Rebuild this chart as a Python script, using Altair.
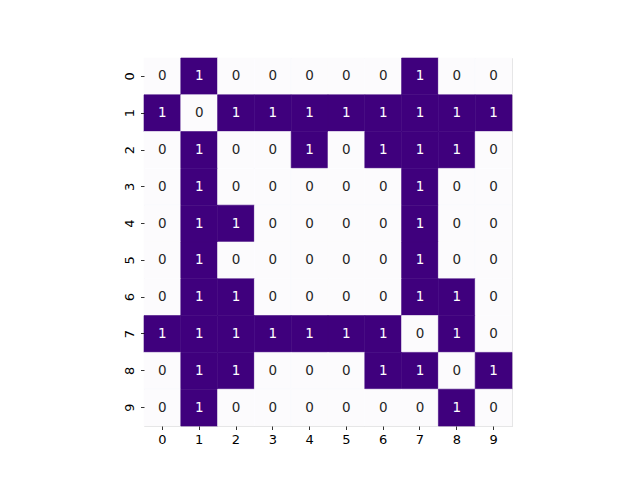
import altair as alt
import pandas as pd

row_0 = [0, 1, 0, 0, 0, 0, 0, 1, 0, 0]
row_1 = [1, 0, 1, 1, 1, 1, 1, 1, 1, 1]
row_2 = [0, 1, 0, 0, 1, 0, 1, 1, 1, 0]
row_3 = [0, 1, 0, 0, 0, 0, 0, 1, 0, 0]
row_4 = [0, 1, 1, 0, 0, 0, 0, 1, 0, 0]
row_5 = [0, 1, 0, 0, 0, 0, 0, 1, 0, 0]
row_6 = [0, 1, 1, 0, 0, 0, 0, 1, 1, 0]
row_7 = [1, 1, 1, 1, 1, 1, 1, 0, 1, 0]
row_8 = [0, 1, 1, 0, 0, 0, 1, 1, 0, 1]
row_9 = [0, 1, 0, 0, 0, 0, 0, 0, 1, 0]
rows = [row_0, row_1, row_2, row_3, row_4, row_5, row_6, row_7, row_8, row_9]
labels = [str(i) for i in range(10)]

records = []
for r, vals in enumerate(rows):
    for c, v in enumerate(vals):
        records.append({"row": labels[r], "col": labels[c], "value": v})
df = pd.DataFrame(records)

font = "DejaVu Sans"
xenc = alt.X("col:O", sort=labels, title=None,
             scale=alt.Scale(paddingInner=0, paddingOuter=0),
             axis=alt.Axis(labelAngle=0, domain=False, tickSize=3.5, tickWidth=0.8,
                           tickColor="black", labelPadding=3.5, labelFont=font,
                           labelFontSize=13, labelColor="black", grid=False))
yenc = alt.Y("row:O", sort=labels, title=None,
             scale=alt.Scale(paddingInner=0, paddingOuter=0),
             axis=alt.Axis(labelAngle=270, domain=False, tickSize=3.5, tickWidth=0.8,
                           tickColor="black", labelPadding=4.5, labelFont=font,
                           labelFontSize=13, labelColor="black", grid=False,
                           labelAlign="center", labelBaseline="bottom"))

base = alt.Chart(df).encode(x=xenc, y=yenc)

cscale = alt.Scale(domain=[0, 1], range=["#fcfbfd", "#3f007d"])
rects = base.mark_rect(strokeWidth=0.6).encode(
    fill=alt.Fill("value:Q", scale=cscale, legend=None),
    stroke=alt.Stroke("value:Q", scale=cscale, legend=None),
)
texts = base.mark_text(font=font, fontSize=13.5).encode(
    text="value:Q",
    color=alt.condition(alt.datum.value > 0.5, alt.value("white"), alt.value("#262626")),
)

chart = (rects + texts).properties(
    width=368, height=368,
    autosize=alt.AutoSizeParams(type="none"),
    padding={"left": 144, "top": 58, "right": 128, "bottom": 54},
).configure_view(stroke=None).configure(background="white")

chart.save("out.html", embed_options={"renderer": "svg", "actions": False})
